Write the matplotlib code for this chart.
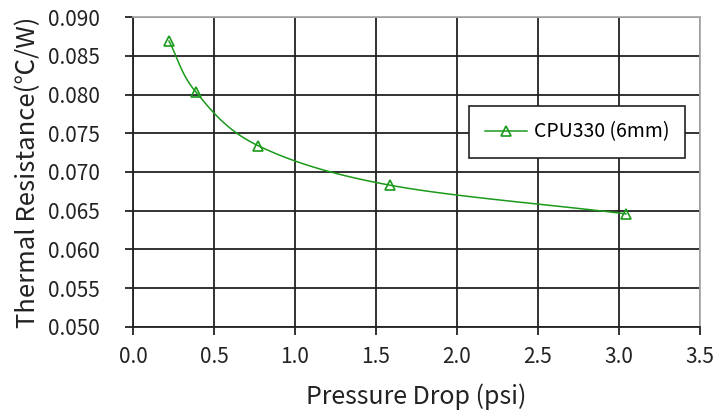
import numpy as np
import matplotlib
matplotlib.use("Agg")
import matplotlib.pyplot as plt

plt.rcParams['font.family'] = ['Noto Sans CJK KR', 'DejaVu Sans']

# data
pressure_drop = [0.222, 0.389, 0.772, 1.586, 3.043]
thermal_res = [0.0869, 0.0803, 0.0734, 0.0683, 0.0646]
series_name = "CPU330 (6mm)"


def catmull_rom(x, y, n=30):
    # Excel-like smoothed line through the points
    x = np.asarray(x, float)
    y = np.asarray(y, float)
    px = np.concatenate([[2 * x[0] - x[1]], x, [2 * x[-1] - x[-2]]])
    py = np.concatenate([[2 * y[0] - y[1]], y, [2 * y[-1] - y[-2]]])
    xs, ys = [], []
    t = np.linspace(0, 1, n)
    for i in range(1, len(px) - 2):
        p0, p1, p2, p3 = [np.array([px[j], py[j]]) for j in range(i - 1, i + 3)]
        c1 = p1 + (p2 - p0) / 6
        c2 = p2 - (p3 - p1) / 6
        for tt in t:
            b = ((1 - tt) ** 3 * p1 + 3 * (1 - tt) ** 2 * tt * c1
                 + 3 * (1 - tt) * tt ** 2 * c2 + tt ** 3 * p2)
            xs.append(b[0])
            ys.append(b[1])
    return np.array(xs), np.array(ys)


fig = plt.figure(figsize=(7.17, 4.19), dpi=100)
ax = fig.add_axes([0.1855, 0.2196, 0.7908, 0.7398])

green = '#1a9a1a'
sx, sy = catmull_rom(pressure_drop, thermal_res)
ax.plot(sx, sy, color=green, lw=1.1)
ax.plot(pressure_drop, thermal_res, linestyle='none', marker='^', ms=7.5,
        mfc='none', mec=green, mew=1.2)
# legend handle
ax.plot([], [], color=green, lw=1.1, marker='^', ms=7.5, mfc='none',
        mec=green, mew=1.2, label=series_name)

ax.set_xlim(0, 3.5)
ax.set_ylim(0.050, 0.090)
ax.set_xticks(np.arange(0, 3.51, 0.5))
ax.set_yticks(np.arange(0.050, 0.0901, 0.005))
ax.set_xticklabels([f"{v:.1f}" for v in np.arange(0, 3.51, 0.5)])
ax.set_yticklabels([f"{v:.3f}" for v in np.arange(0.050, 0.0901, 0.005)])
ax.grid(True, color='#222222', lw=1.3)
ax.set_axisbelow(True)
for s in ['left', 'bottom']:
    ax.spines[s].set_color('#222222')
    ax.spines[s].set_linewidth(1.3)
for s in ['top', 'right']:
    ax.spines[s].set_color('#aaaaaa')
    ax.spines[s].set_linewidth(1.3)
ax.tick_params(direction='out', length=6, width=1.3, color='#222222',
               labelsize=15, labelcolor='#222222')
ax.tick_params(axis='y', pad=18)
ax.tick_params(axis='x', pad=8)

ax.set_xlabel("Pressure Drop (psi)", fontsize=18, color='#222222', labelpad=11)
ax.set_ylabel("Thermal Resistance(℃/W)", fontsize=18.5, color='#222222', labelpad=5)

leg = ax.legend(loc='upper left', bbox_to_anchor=(0.5926, 0.7129), fontsize=14,
                frameon=True, fancybox=False, framealpha=1, borderpad=0.8,
                handlelength=2.2, handletextpad=0.35, borderaxespad=0)
leg.get_frame().set_edgecolor('#222222')
leg.get_frame().set_linewidth(1.2)

fig.savefig("out.png", dpi=100)
